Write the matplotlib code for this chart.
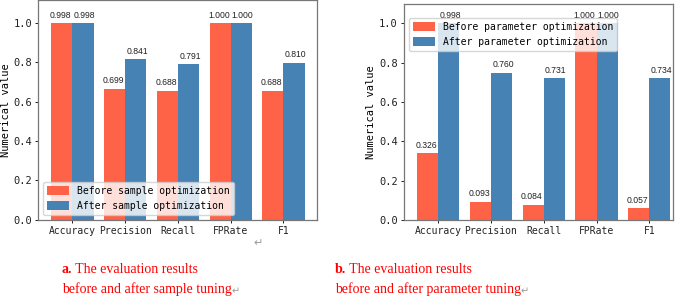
import matplotlib
matplotlib.use("Agg")
import matplotlib.pyplot as plt
import numpy as np

categories = ['Accuracy', 'Precision', 'Recall', 'FPRate', 'F1']

# panel a: sample optimization (bar heights as drawn, labels as printed)
sample_before = [0.998, 0.665, 0.655, 1.000, 0.655]
sample_after = [0.998, 0.815, 0.789, 1.000, 0.798]
sample_before_lbl = ['0.998', '0.699', '0.688', '1.000', '0.688']
sample_after_lbl = ['0.998', '0.841', '0.791', '1.000', '0.810']

# panel b: parameter optimization
param_before = [0.339, 0.093, 0.078, 1.000, 0.059]
param_after = [1.000, 0.748, 0.721, 1.000, 0.721]
param_before_lbl = ['0.326', '0.093', '0.084', '1.000', '0.057']
param_after_lbl = ['0.998', '0.760', '0.731', '1.000', '0.734']

RED = '#FF6347'
BLUE = '#4682B4'
MONO = 'DejaVu Sans Mono'

fig = plt.figure(figsize=(6.85, 2.98), dpi=100)
ax1 = fig.add_axes([0.056, 0.2634, 0.4064, 0.7366])
ax2 = fig.add_axes([0.5898, 0.2617, 0.3927, 0.7265])


def draw(ax, before, after, blbl, albl, names, xlim, ylim, legend_kw):
    x = np.arange(len(categories))
    w = 0.4
    b1 = ax.bar(x - w / 2, before, w, color=RED, label=names[0])
    b2 = ax.bar(x + w / 2, after, w, color=BLUE, label=names[1])
    for bars, lbls, dx in ((b1, blbl, -1.0), (b2, albl, 1.0)):
        for r, t in zip(bars, lbls):
            ax.annotate(t, (r.get_x() + r.get_width() / 2, r.get_height()),
                        xytext=(dx, 2.5), textcoords='offset points',
                        ha='center', va='bottom', fontsize=6.2,
                        family='Liberation Sans', color='#222222')
    ax.set_xticks(x)
    ax.set_xticklabels(categories, family=MONO, fontsize=7)
    ax.set_yticks(np.arange(0, 1.01, 0.2))
    ax.set_yticklabels(['%.1f' % v for v in np.arange(0, 1.01, 0.2)],
                       family=MONO, fontsize=7.5)
    ax.set_xlim(*xlim)
    ax.set_ylim(0, ylim)
    ax.set_ylabel('Numerical value', family=MONO, fontsize=7.5, labelpad=2)
    for s in ax.spines.values():
        s.set_color('#777777')
        s.set_linewidth(0.9)
    ax.tick_params(length=2.5, width=0.7, pad=2, colors='#222222')
    ax.legend(prop={'family': MONO, 'size': 7}, handlelength=2.3,
              handleheight=1.0, framealpha=0.8, **legend_kw)


draw(ax1, sample_before, sample_after, sample_before_lbl, sample_after_lbl,
     ['Before sample optimization', 'After sample optimization'],
     (-0.645, 4.63), 1.117, {'loc': 'lower left'})
draw(ax2, param_before, param_after, param_before_lbl, param_after_lbl,
     ['Before parameter optimization', 'After parameter optimization'],
     (-0.65, 4.45), 1.1, {'loc': 'upper left', 'bbox_to_anchor': (0.0, 0.955)})

# captions under each panel
cap_font = {'family': ['Liberation Serif', 'DejaVu Sans'], 'size': 10}

for x0, tag, l2 in ((0.0905, 'a.', 'before and after sample tuning'),
                    (0.489, 'b.', 'before and after parameter tuning')):
    a = fig.text(x0, 0.084, tag, color='red', fontweight='bold',
                 va='baseline', **cap_font)
    ax1.annotate(' The evaluation results', xy=(1, 0), xycoords=a,
                 va='bottom', ha='left', color='red', annotation_clip=False,
                 **cap_font)
    c = fig.text(x0, 0.017, l2, color='red', va='baseline', **cap_font)
    ax1.annotate('\u21b5', xy=(1, 0), xycoords=c, va='bottom', ha='left',
                 color='#999999', annotation_clip=False,
                 family='DejaVu Sans', size=7)

fig.text(0.377, 0.185, '\u21b5', color='#999999', family='DejaVu Sans', size=8,
         ha='center', va='center')

fig.savefig('out.png', dpi=100)
